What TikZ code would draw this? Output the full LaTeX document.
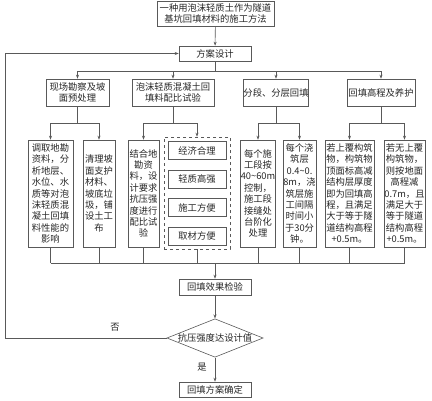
\documentclass[tikz,border=0pt]{standalone}
\usepackage{fontspec}
\setmainfont{Noto Sans CJK SC}
\usetikzlibrary{arrows.meta,shapes.geometric}
\definecolor{linec}{gray}{0.35}
\definecolor{txtc}{gray}{0.15}
\begin{document}
\begin{tikzpicture}[x=1pt,y=-1pt,
  every node/.style={text=txtc},
  bx/.style={draw=linec,line width=0.6pt,align=center,inner sep=0pt,
    font=\fontsize{9.3}{11.4}\selectfont},
  arr/.style={draw=linec,line width=0.6pt,-{Stealth[length=4pt,width=3pt]}},
  ln/.style={draw=linec,line width=0.6pt}]
\useasboundingbox (0,0) rectangle (432,400);
% title and design
\node[bx,minimum width=117pt,minimum height=25pt] (title) at (215.5,13.5) {一种用泡沫轻质土作为隧道\\基坑回填材料的施工方法};
\node[bx,minimum width=72pt,minimum height=15pt] (design) at (215,53.5) {方案设计};
% level 2
\node[bx,minimum width=63pt,minimum height=27pt] (l1) at (77.5,92.5) {现场勘察及坡\\面预处理};
\node[bx,minimum width=82pt,minimum height=27pt] (l2) at (173,92.5) {泡沫轻质混凝土回\\填料配比试验};
\node[bx,minimum width=64pt,minimum height=27pt] (l3) at (276,92.5) {分段、分层回填};
\node[bx,minimum width=68pt,minimum height=27pt] (l4) at (381,92.5) {回填高程及养护};
% level 3
\node[bx,minimum width=45pt,minimum height=107pt] (c1) at (50.5,193.5) {调取地勘\\资料，分\\析地层、\\水位、水\\质等对泡\\沫轻质混\\凝土回填\\料性能的\\影响};
\node[bx,minimum width=32pt,minimum height=107pt] (c2) at (99,193.5) {清理坡\\面支护\\材料、\\坡底垃\\圾，铺\\设土工\\布};
\node[bx,minimum width=31pt,minimum height=107pt] (c3) at (143.5,193.5) {结合地\\勘资\\料，设\\计要求\\抗压强\\度进行\\配比试\\验};
\node[draw=linec,line width=0.6pt,dashed,minimum width=66pt,minimum height=112pt,inner sep=0pt] (c4) at (197,193) {};
\node[bx,minimum width=58pt,minimum height=18pt] (d1) at (197,150.5) {经济合理};
\node[bx,minimum width=58pt,minimum height=18pt] (d2) at (197,179) {轻质高强};
\node[bx,minimum width=58pt,minimum height=18pt] (d3) at (197,207.5) {施工方便};
\node[bx,minimum width=58pt,minimum height=18pt] (d4) at (197,236) {取材方便};
\node[bx,minimum width=32pt,minimum height=107pt] (c5) at (258,193.5) {每个施\\工段按\\40\textasciitilde60m\\控制，\\施工段\\接缝处\\台阶化\\处理};
\node[bx,minimum width=33pt,minimum height=107pt] (c6) at (299.5,193.5) {每个浇\\筑层\\0.4\textasciitilde0.\\8m，浇\\筑层施\\工间隔\\时间小\\于30分\\钟。};
\node[bx,minimum width=49pt,minimum height=107pt] (c7) at (349.5,193.5) {若上覆构筑\\物，构筑物\\顶面标高减\\结构层厚度\\即为回填高\\程，且满足\\大于等于隧\\道结构高程\\+0.5m。};
\node[bx,minimum width=41pt,minimum height=107pt] (c8) at (404.5,193.5) {若无上覆\\构筑物，\\则按地面\\高程减\\0.7m，且\\满足大于\\等于隧道\\结构高程\\+0.5m。};
% bottom
\node[bx,minimum width=72pt,minimum height=16pt] (check) at (215,287) {回填效果检验};
\node[draw=linec,line width=0.6pt,diamond,aspect=2.5,minimum width=96pt,minimum height=38pt,inner sep=0pt,font=\fontsize{9.3}{11.4}\selectfont] (dia) at (215,338) {抗压强度达设计值};
\node[bx,minimum width=72pt,minimum height=15pt] (final) at (215,389.5) {回填方案确定};
\node[font=\fontsize{9.3}{11.4}\selectfont] (no) at (115,327) {否};
\node[font=\fontsize{9.3}{11.4}\selectfont] (yes) at (202,367) {是};
% helper coordinates
\coordinate (hb) at (215,71);
\coordinate (r1) at (0,123);
\coordinate (r2) at (0,263);
\coordinate (fb) at (5,0);
% connectors
\draw[arr] (title) -- (design);
\draw[ln] (design.south) -- (hb);
\draw[arr] (hb) -| (l1.north);
\draw[arr] (hb) -| (l2.north);
\draw[arr] (hb) -| (l3.north);
\draw[arr] (hb) -| (l4.north);
\foreach \p/\a/\b in {l1/c1/c2,l2/c3/c4,l3/c5/c6,l4/c7/c8}{
  \draw[ln] (\p.south) -- (\p.south |- r1);
  \draw[arr] (\p.south |- r1) -| (\a.north);
  \draw[arr] (\p.south |- r1) -| (\b.north);
}
\foreach \c in {c1,c2,c3,c4,c5,c6,c7,c8}{
  \draw[ln] (\c.south) -- (\c.south |- r2);
}
\draw[ln] (c1.south |- r2) -- (c8.south |- r2);
\draw[arr] (check.north |- r2) -- (check.north);
\draw[arr] (check) -- (dia);
\draw[arr] (dia) -- (final);
\draw[arr] (dia.west) -- (dia.west -| fb) |- (design.west);
\end{tikzpicture}
\end{document}
